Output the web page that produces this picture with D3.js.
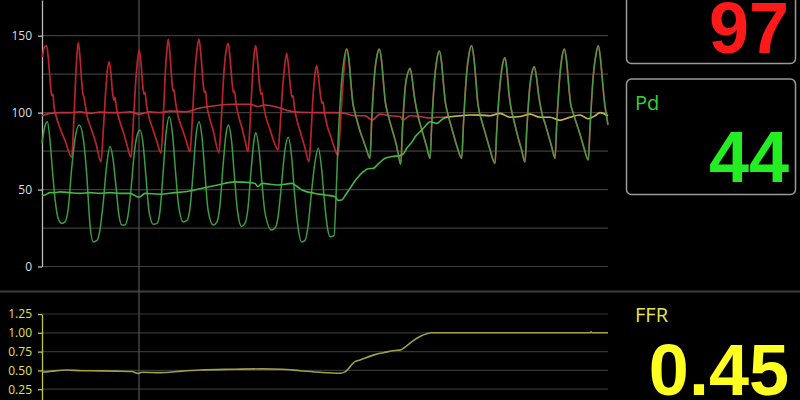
<!DOCTYPE html>
<html><head><meta charset="utf-8">
<script src="https://cdn.jsdelivr.net/npm/d3@7/dist/d3.min.js"></script>
<style>html,body{margin:0;padding:0;background:#000;overflow:hidden}svg{display:block}</style>
</head><body>
<svg id="chart" width="800" height="400"></svg>
<script>
// ---- data (time in samples, pressure in mmHg) ----
const sampleDomain = [0, 566];
const pressureTicks = [0, 50, 100, 150];
const pressureGrid = [0, 25, 50, 75, 100, 125, 150];
const ffrTicks = [0.25, 0.50, 0.75, 1.00, 1.25];
const cursorSample = 97;

// distal pressure (Pd) before pullback
const pdRest = [[0,80],[2.5,90],[5.3,94],[8,82],[10,66],[13,44],[16.3,31],[19.7,28],[23,29],[26.3,38],[29.7,64],[33,83],[37.3,92],[41.3,83],[44.7,60],[48,27],[51.3,16],[55,17],[58,24],[61.3,42],[64.7,66],[68,78],[71,70],[74,52],[77,33],[79.7,27],[83,27],[86,33],[89,50],[92,72],[95,85],[98,88.7],[101,80],[104,58],[107,36],[111.3,27.4],[115,28],[118,36],[121,60],[124,86],[127.3,97.3],[130.5,86],[133.5,62],[136.5,40],[141.3,29],[145,30],[148,38],[151,60],[154,85],[157,94],[160,84],[163,60],[166,37],[171.3,27],[175,29],[178,40],[181,65],[184,86],[186.3,92],[189.5,82],[192.5,58],[195.5,36],[199.7,26],[203,28],[206,38],[209,62],[212,82],[213.7,87],[217,76],[220,54],[223,35],[229.7,23.7],[233,25],[236,32],[239,50],[243,76],[246.3,84],[249.5,72],[252.5,48],[255.5,28],[259.7,16],[263,17],[266,26],[269,45],[273,68],[276.3,76.8],[279.5,64],[282.5,42],[285.5,25],[288,19.4],[292,20],[294,45],[296.3,85],[299,115],[301.3,131]];

// aortic pressure (Pa) before pullback
const paRest = [[0.5,136],[2,142],[4.7,143.5],[6.5,134],[8,122],[9,114],[10,111],[11,112],[12,104],[14,98],[18,90],[23,82],[29.7,71],[31.5,90],[33.5,120],[35,138],[36.3,145.7],[38,136],[39.7,120],[41,112],[42,110],[43,106],[45,98],[49,90],[54,80],[59,68],[61,85],[63.5,112],[65.5,128],[67.3,133],[69,125],[70.5,113],[72,108],[73,110],[74.5,103],[77,96],[81,88],[85,79],[89,71],[91,90],[93.5,118],[95.5,134],[97.3,140.7],[99,132],[100.7,118],[102,112],[103,113],[104.5,105],[107,97],[111,89],[115,81],[119,73.7],[121,92],[123,122],[124.8,140],[126.3,147.8],[128,138],[129.7,122],[131,114],[132,115],[133.5,107],[136,98],[140,90],[144,82],[148,74.6],[150,92],[152.5,122],[155,141],[157,147.8],[159,137],[161.3,118],[162.5,113],[163.5,114],[165,104],[167,98],[171.3,88],[177,74],[179,92],[181.5,122],[184,140],[186.3,145],[188,136],[190,120],[191.5,113],[192.5,114],[194,106],[196.5,98],[200,90],[203,82],[206,74.6],[208,92],[210,118],[212,137],[213.7,143.5],[215.5,134],[217.5,118],[219,112],[220,113],[221.5,105],[224,97],[228,89],[232,81],[236,75.7],[238,90],[240.5,115],[243,132],[244.7,138.5],[246.5,130],[248.5,116],[250,110],[251,111],[252.5,103],[255,95],[259,86],[263,77],[267,68],[269,86],[271,110],[273,125],[274.7,130.5],[276.5,123],[278.5,111],[280,106],[281,107],[282.5,100],[285,92],[289,84],[293,76],[296,72],[298,88],[300,110],[302,128]];

// after pullback: Pa and Pd coincide
const pullback = [[304.7,141.3],[307,134],[308.7,121],[310.7,107],[313,100],[315,95],[318,88],[321.3,82],[324.5,76],[328,70.3],[329.7,95],[333,128],[335,137],[337.3,141.3],[339.5,134],[341.3,121],[343.3,107],[345.5,100],[347.5,95],[351,87],[354,80],[356,74],[358.7,66.4],[360.5,90],[363.5,118],[366,126],[368,128.8],[370,123],[372,112],[374,104],[376,98],[378,93],[381.5,85],[385,77],[388,70.3],[389.7,92],[393,125],[395,135],[397.3,140],[399.5,133],[401.3,120],[403.3,107],[405.5,100],[407.5,95],[411,87],[415,78],[419.7,70.3],[421.4,92],[424.7,126],[427,138],[429.7,143.5],[432,135],[433.8,122],[435.5,108],[437.5,100],[440,94],[444,85],[448,76],[453,67],[454.7,88],[458,118],[460.5,131],[463,135.7],[465,127],[467,112],[469,103],[471.5,96],[476,84],[479.5,76],[483,68],[484.7,88],[488,118],[490.3,127],[492.3,129.8],[494.5,123],[496.5,112],[498.5,104],[500.5,98],[503,93],[507,84],[510,77],[513,70.3],[514.7,92],[518,125],[520,136],[522.3,141.3],[524.5,134],[526.3,121],[528.3,107],[531,100],[534,94],[538,86],[542,77],[546.3,69.2],[548,90],[551.3,124],[554,138],[556.3,143.5],[558.5,135],[560.3,122],[562.3,108],[564,100],[566,92]];

// mean pressures
const pdMean = [[0,46],[3,46.5],[8,48],[13,48],[18,48.5],[28,48],[38,47.5],[48,48],[58,47.5],[68,48],[78,47.5],[88,47.5],[97,45],[103,47.5],[118,47],[133,48],[143,48.6],[158,50.5],[176,53],[193,55],[208,54.5],[213,54],[216,52],[220,54],[236,53],[250,54],[254,52.5],[260,49.7],[273,47.5],[283,46.5],[293,45.4],[296,43],[299.7,43.2],[303,46],[308,50.8],[314,56.5],[321.3,61.6],[326,63.5],[331.3,63.8],[336,66.5],[343,70.3],[350,71.5],[358,72],[361,73],[364.7,76.8],[370,81],[374,85],[378,87.6],[383,91],[388,94.1],[394.7,93],[401,96],[408,97.3],[418,98],[428,98.5],[438,98.4],[448,98],[458,99.5],[468,97],[478,97.5],[488,99],[498,97],[508,97],[518,95],[528,97],[538,98.5],[546,96],[553,98],[558,100],[566,98]];
const paMean = [[0,98],[8,99.5],[18,100],[28,100],[38,100.5],[48,99.5],[58,100.3],[68,100],[78,100],[88,100.5],[97,99],[108,100.5],[118,100],[128,101],[143,100.6],[158,103],[173,104.5],[193,105.4],[208,105.4],[216,104],[223,105],[238,103],[248,101],[258,100.2],[278,100],[293,100],[303,99.5],[313,98],[323,98],[330,95.2],[338,99],[348,98],[358,97.5],[361,95.2],[368,98],[378,97.5],[388,96.5],[394.7,97],[401,97],[408,97.3],[418,98],[428,98.5],[438,98.4],[448,98],[458,99.5],[468,97],[478,97.5],[488,99],[498,97],[508,97],[518,95],[528,97],[538,98.5],[546,96],[553,98],[558,100],[566,98]];

// FFR trend
const ffrTrend = [[0,0.475],[10,0.49],[25,0.505],[40,0.495],[58,0.494],[75,0.49],[90,0.485],[96,0.46],[100,0.475],[118,0.47],[140,0.49],[158,0.505],[190,0.515],[220,0.52],[240,0.515],[258,0.496],[278,0.475],[298,0.463],[303,0.48],[313,0.616],[318,0.638],[333,0.71],[341.3,0.735],[353,0.765],[358,0.77],[365,0.83],[371.3,0.895],[378,0.95],[389.7,1.0],[548,1.0],[549,1.012],[550,1.0],[566,1.0]];

// readouts
const readoutLabels = ["Pa", "Pd", "FFR"];
const readoutValues = ["97", "44", "0.45"];

// ---- drawing ----
const svg = d3.select("#chart");
svg.append("rect").attr("width", 800).attr("height", 400).attr("fill", "#000");

const x = d3.scaleLinear().domain(sampleDomain).range([42, 608]);
const yP = d3.scaleLinear().domain([0, 173.2]).range([266.5, 0]);
const yF = d3.scaleLinear().domain([0, 1.25]).range([408, 314]);

const gridColor = "#3c3c3c";
svg.append("g").selectAll("line").data(pressureGrid).join("line")
  .attr("x1", x(sampleDomain[0])).attr("x2", x(sampleDomain[1]))
  .attr("y1", d => yP(d)).attr("y2", d => yP(d))
  .attr("stroke", gridColor).attr("stroke-width", 1.2);
svg.append("g").selectAll("line").data(ffrTicks).join("line")
  .attr("x1", x(sampleDomain[0])).attr("x2", x(sampleDomain[1]))
  .attr("y1", d => yF(d)).attr("y2", d => yF(d))
  .attr("stroke", "#343434").attr("stroke-width", 1.2);

// separator
svg.append("line").attr("x1", 0).attr("x2", 800).attr("y1", 291.5).attr("y2", 291.5)
  .attr("stroke", "#3c3c3c").attr("stroke-width", 2);

// cursor
svg.append("line").attr("x1", x(cursorSample)).attr("x2", x(cursorSample))
  .attr("y1", 0).attr("y2", 400).attr("stroke", "#555").attr("stroke-width", 1.2);

// axes
const axP = svg.append("g").attr("transform", `translate(${x(0)},0)`)
  .call(d3.axisLeft(yP).tickValues(pressureTicks).tickSize(4).tickSizeOuter(0).tickPadding(6));
axP.select(".domain").attr("stroke", "#bbb").attr("stroke-width", 1.3);
axP.selectAll(".tick line").attr("stroke", "#bbb").attr("stroke-width", 1.3);
axP.selectAll(".tick text").attr("fill", "#ddd").attr("font-family", "'Open Sans', sans-serif").attr("font-size", 12);

const axF = svg.append("g").attr("transform", `translate(${x(0)},0)`)
  .call(d3.axisLeft(yF).tickValues(ffrTicks).tickFormat(d3.format(".2f")).tickSize(4).tickSizeOuter(0).tickPadding(6));
axF.select(".domain").attr("stroke", "#c4c448").attr("stroke-width", 1.3);
axF.selectAll(".tick line").attr("stroke", "#c4c448").attr("stroke-width", 1.3);
axF.selectAll(".tick text").attr("fill", "#e0e050").attr("font-family", "'Open Sans', sans-serif").attr("font-size", 12);

// waves
const lineP = d3.line().x(d => x(d[0])).y(d => yP(d[1])).curve(d3.curveMonotoneX);
const lineF = d3.line().x(d => x(d[0])).y(d => yF(d[1])).curve(d3.curveMonotoneX);

const waves = svg.append("g").style("isolation", "isolate");
waves.append("path").attr("d", lineP(paRest.concat(pullback)))
  .attr("fill", "none").attr("stroke", "#b8242c").attr("stroke-width", 1.7).attr("stroke-linejoin", "round");
waves.append("path").attr("d", lineP(paMean))
  .attr("fill", "none").attr("stroke", "#c0303a").attr("stroke-width", 1.6);
waves.append("path").attr("d", lineP(pdRest.concat(pullback)))
  .attr("fill", "none").attr("stroke", "#3fa447").attr("stroke-width", 1.5).attr("stroke-linejoin", "round")
  .attr("stroke-opacity", 0.95);
waves.append("path").attr("d", lineP(pdMean))
  .attr("fill", "none").attr("stroke", "#44b844").attr("stroke-width", 1.6)
  .style("mix-blend-mode", "lighten");

svg.append("path").attr("d", lineF(ffrTrend))
  .attr("fill", "none").attr("stroke", "#a0a046").attr("stroke-width", 1.6);

// readout boxes
const boxes = [{y: -52, h: 115.5}, {y: 79, h: 115.5}];
svg.append("g").selectAll("rect").data(boxes).join("rect")
  .attr("x", 626.5).attr("y", d => d.y).attr("width", 169).attr("height", d => d.h)
  .attr("rx", 5).attr("fill", "none").attr("stroke", "#9a9a9a").attr("stroke-width", 1.5);

const bigFont = "'Liberation Sans', Arial, sans-serif";
svg.append("text").attr("x", 789).attr("y", 53).attr("text-anchor", "end")
  .attr("font-family", bigFont).attr("font-weight", "bold").attr("font-size", 72)
  .attr("fill", "#ff1a1a").text(readoutValues[0]);

svg.append("text").attr("x", 635).attr("y", 110)
  .attr("font-family", "'Open Sans', sans-serif").attr("font-size", 20)
  .attr("fill", "#33d633").text(readoutLabels[1]);
svg.append("text").attr("x", 789).attr("y", 182).attr("text-anchor", "end")
  .attr("font-family", bigFont).attr("font-weight", "bold").attr("font-size", 72)
  .attr("fill", "#22ee22").text(readoutValues[1]);

svg.append("text").attr("x", 635).attr("y", 322)
  .attr("font-family", "'Open Sans', sans-serif").attr("font-size", 20)
  .attr("fill", "#e6e64a").text(readoutLabels[2]);
svg.append("text").attr("x", 789).attr("y", 395).attr("text-anchor", "end")
  .attr("font-family", bigFont).attr("font-weight", "bold").attr("font-size", 72)
  .attr("fill", "#ffff22").text(readoutValues[2]);
</script>
</body></html>
